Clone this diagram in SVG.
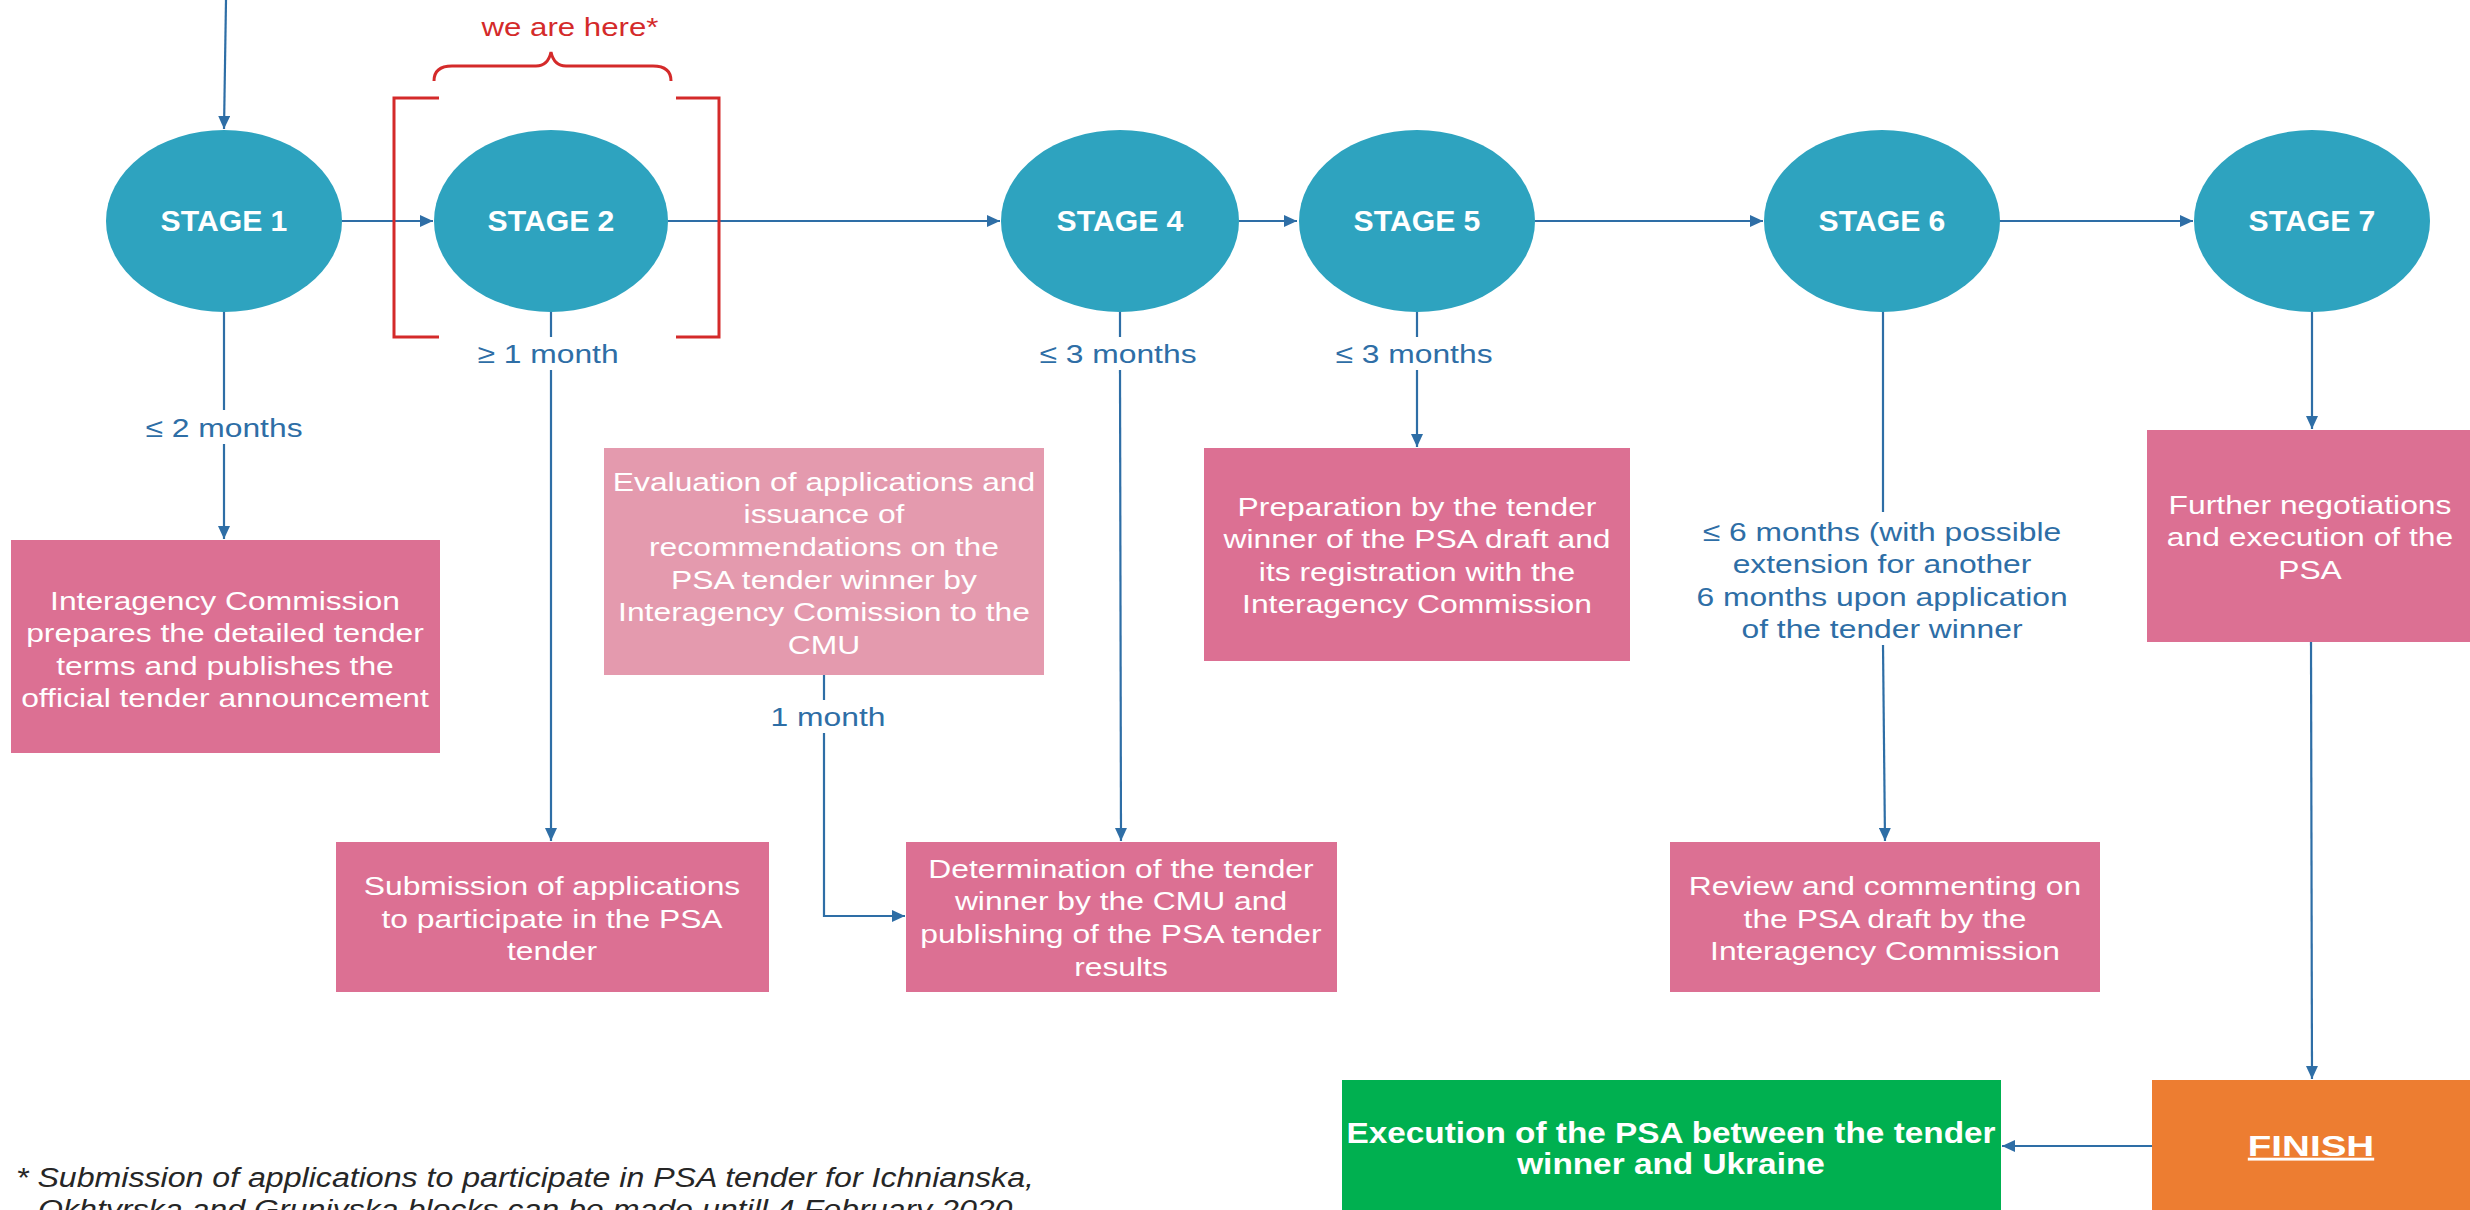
<svg xmlns="http://www.w3.org/2000/svg" width="2470" height="1210" viewBox="0 0 2470 1210">
<style>
.st{fill:#2EA3BF}
.pk{fill:#DC7093}
.lp{fill:#E49AAE}
.gr{fill:#00B050}
.or{fill:#ED7D31}
.stt{font-family:"Liberation Sans",Arial,sans-serif;font-weight:bold;font-size:29px;fill:#ffffff;text-anchor:middle}
.bt{font-family:"Liberation Sans",Arial,sans-serif;font-size:26.5px;fill:#ffffff;text-anchor:middle}
.bb{font-family:"Liberation Sans",Arial,sans-serif;font-weight:bold;font-size:29px;fill:#ffffff;text-anchor:middle}
.lb{font-family:"Liberation Sans",Arial,sans-serif;font-size:26.5px;fill:#2E6EA6;text-anchor:middle}
.red{font-family:"Liberation Sans",Arial,sans-serif;font-size:26px;fill:#D42A2A;text-anchor:middle}
.fn{font-family:"Liberation Sans",Arial,sans-serif;font-style:italic;font-size:27px;fill:#262626}
.ln{fill:none;stroke:#2E6EA6;stroke-width:2.2}
.rb{fill:none;stroke:#D42A2A;stroke-width:3}
</style>
<defs>
<marker id="ah" markerUnits="userSpaceOnUse" markerWidth="14" markerHeight="12" refX="13" refY="6" orient="auto">
<path d="M0,0 L13,6 L0,12 z" fill="#2E6EA6"/>
</marker>
</defs>

<g id="connectors">
<path class="ln" d="M226,0 L224,129" marker-end="url(#ah)"/>
<path class="ln" d="M342,221 L433,221" marker-end="url(#ah)"/>
<path class="ln" d="M668,221 L1000,221" marker-end="url(#ah)"/>
<path class="ln" d="M1239,221 L1297,221" marker-end="url(#ah)"/>
<path class="ln" d="M1535,221 L1763,221" marker-end="url(#ah)"/>
<path class="ln" d="M1999,221 L2193,221" marker-end="url(#ah)"/>
<path class="ln" d="M224,311 L224,410"/>
<path class="ln" d="M224,444 L224,539" marker-end="url(#ah)"/>
<path class="ln" d="M551,311 L551,337"/>
<path class="ln" d="M551,370 L551,841" marker-end="url(#ah)"/>
<path class="ln" d="M1120,311 L1120,337"/>
<path class="ln" d="M1120,370 L1121,841" marker-end="url(#ah)"/>
<path class="ln" d="M1417,311 L1417,337"/>
<path class="ln" d="M1417,370 L1417,447" marker-end="url(#ah)"/>
<path class="ln" d="M824,675 L824,700"/>
<path class="ln" d="M824,733 L824,916 L905,916" marker-end="url(#ah)"/>
<path class="ln" d="M1883,311 L1883,512"/>
<path class="ln" d="M1883,645 L1885,841" marker-end="url(#ah)"/>
<path class="ln" d="M2312,311 L2312,429" marker-end="url(#ah)"/>
<path class="ln" d="M2311,642 L2312,1079" marker-end="url(#ah)"/>
<path class="ln" d="M2152,1146 L2002,1146" marker-end="url(#ah)"/>
</g>

<g id="marker-here">
<path class="rb" d="M439,98 L394,98 L394,337 L439,337"/>
<path class="rb" d="M676,98 L719,98 L719,337 L676,337"/>
<path class="rb" stroke-width="2.5" d="M434,81 Q434,66 452,66 L536,66 Q548,66 551,52 Q554,66 566,66 L653,66 Q671,66 671,81"/>
<text class="red" transform="matrix(1.2 0 0 1 570 0)"><tspan x="0" y="36">we are here*</tspan></text>
</g>

<g id="stage1"><ellipse class="st" cx="224" cy="221" rx="118" ry="91"/><text class="stt" transform="matrix(1.04 0 0 1 224 0)"><tspan x="0" y="231">STAGE 1</tspan></text></g>
<g id="stage2"><ellipse class="st" cx="551" cy="221" rx="117" ry="91"/><text class="stt" transform="matrix(1.04 0 0 1 551 0)"><tspan x="0" y="231">STAGE 2</tspan></text></g>
<g id="stage4"><ellipse class="st" cx="1120" cy="221" rx="119" ry="91"/><text class="stt" transform="matrix(1.04 0 0 1 1120 0)"><tspan x="0" y="231">STAGE 4</tspan></text></g>
<g id="stage5"><ellipse class="st" cx="1417" cy="221" rx="118" ry="91"/><text class="stt" transform="matrix(1.04 0 0 1 1417 0)"><tspan x="0" y="231">STAGE 5</tspan></text></g>
<g id="stage6"><ellipse class="st" cx="1882" cy="221" rx="118" ry="91"/><text class="stt" transform="matrix(1.04 0 0 1 1882 0)"><tspan x="0" y="231">STAGE 6</tspan></text></g>
<g id="stage7"><ellipse class="st" cx="2312" cy="221" rx="118" ry="91"/><text class="stt" transform="matrix(1.04 0 0 1 2312 0)"><tspan x="0" y="231">STAGE 7</tspan></text></g>

<g id="labels">
<text class="lb" transform="matrix(1.2 0 0 1 224 0)"><tspan x="0" y="437">≤ 2 months</tspan></text>
<text class="lb" transform="matrix(1.2 0 0 1 548 0)"><tspan x="0" y="363">≥ 1 month</tspan></text>
<text class="lb" transform="matrix(1.2 0 0 1 1118 0)"><tspan x="0" y="363">≤ 3 months</tspan></text>
<text class="lb" transform="matrix(1.2 0 0 1 1414 0)"><tspan x="0" y="363">≤ 3 months</tspan></text>
<text class="lb" transform="matrix(1.2 0 0 1 828 0)"><tspan x="0" y="726">1 month</tspan></text>
<text class="lb" transform="matrix(1.2 0 0 1 1882 0)"><tspan x="0" y="541">≤ 6 months (with possible</tspan><tspan x="0" y="573">extension for another</tspan><tspan x="0" y="606">6 months upon application</tspan><tspan x="0" y="638">of the tender winner</tspan></text>
</g>

<g id="box-commission">
<rect class="pk" x="11" y="540" width="429" height="213"/>
<text class="bt" transform="matrix(1.2 0 0 1 225 0)"><tspan x="0" y="610">Interagency Commission</tspan><tspan x="0" y="642">prepares the detailed tender</tspan><tspan x="0" y="675">terms and publishes the</tspan><tspan x="0" y="707">official tender announcement</tspan></text>
</g>

<g id="box-submission">
<rect class="pk" x="336" y="842" width="433" height="150"/>
<text class="bt" transform="matrix(1.2 0 0 1 552 0)"><tspan x="0" y="895">Submission of applications</tspan><tspan x="0" y="928">to participate in the PSA</tspan><tspan x="0" y="960">tender</tspan></text>
</g>

<g id="box-evaluation">
<rect class="lp" x="604" y="448" width="440" height="227"/>
<text class="bt" transform="matrix(1.2 0 0 1 824 0)"><tspan x="0" y="491">Evaluation of applications and</tspan><tspan x="0" y="523">issuance of</tspan><tspan x="0" y="556">recommendations on the</tspan><tspan x="0" y="589">PSA tender winner by</tspan><tspan x="0" y="621">Interagency Comission to the</tspan><tspan x="0" y="654">CMU</tspan></text>
</g>

<g id="box-determination">
<rect class="pk" x="906" y="842" width="431" height="150"/>
<text class="bt" transform="matrix(1.2 0 0 1 1121 0)"><tspan x="0" y="878">Determination of the tender</tspan><tspan x="0" y="910">winner by the CMU and</tspan><tspan x="0" y="943">publishing of the PSA tender</tspan><tspan x="0" y="976">results</tspan></text>
</g>

<g id="box-preparation">
<rect class="pk" x="1204" y="448" width="426" height="213"/>
<text class="bt" transform="matrix(1.2 0 0 1 1417 0)"><tspan x="0" y="516">Preparation by the tender</tspan><tspan x="0" y="548">winner of the PSA draft and</tspan><tspan x="0" y="581">its registration with the</tspan><tspan x="0" y="613">Interagency Commission</tspan></text>
</g>

<g id="box-review">
<rect class="pk" x="1670" y="842" width="430" height="150"/>
<text class="bt" transform="matrix(1.2 0 0 1 1885 0)"><tspan x="0" y="895">Review and commenting on</tspan><tspan x="0" y="928">the PSA draft by the</tspan><tspan x="0" y="960">Interagency Commission</tspan></text>
</g>

<g id="box-further">
<rect class="pk" x="2147" y="430" width="330" height="212"/>
<text class="bt" transform="matrix(1.2 0 0 1 2310 0)"><tspan x="0" y="514">Further negotiations</tspan><tspan x="0" y="546">and execution of the</tspan><tspan x="0" y="579">PSA</tspan></text>
</g>

<g id="box-execution">
<rect class="gr" x="1342" y="1080" width="659" height="140"/>
<text class="bb" transform="matrix(1.15 0 0 1 1671 0)"><tspan x="0" y="1143">Execution of the PSA between the tender</tspan><tspan x="0" y="1174">winner and Ukraine</tspan></text>
</g>

<g id="box-finish">
<rect class="or" x="2152" y="1080" width="330" height="140"/>
<text class="bb" font-size="32" text-decoration="underline" transform="matrix(1.33 0 0 1 2311 0)"><tspan x="0" y="1156">FINISH</tspan></text>
</g>

<g id="footnote">
<text class="fn" transform="matrix(1.19 0 0 1 16 0)"><tspan x="0" y="1187">* Submission of applications to participate in PSA tender for Ichnianska,</tspan></text>
<text class="fn" transform="matrix(1.19 0 0 1 38 0)"><tspan x="0" y="1219">Okhtyrska and Gruniyska blocks can be made untill 4 February 2020</tspan></text>
</g>
</svg>
